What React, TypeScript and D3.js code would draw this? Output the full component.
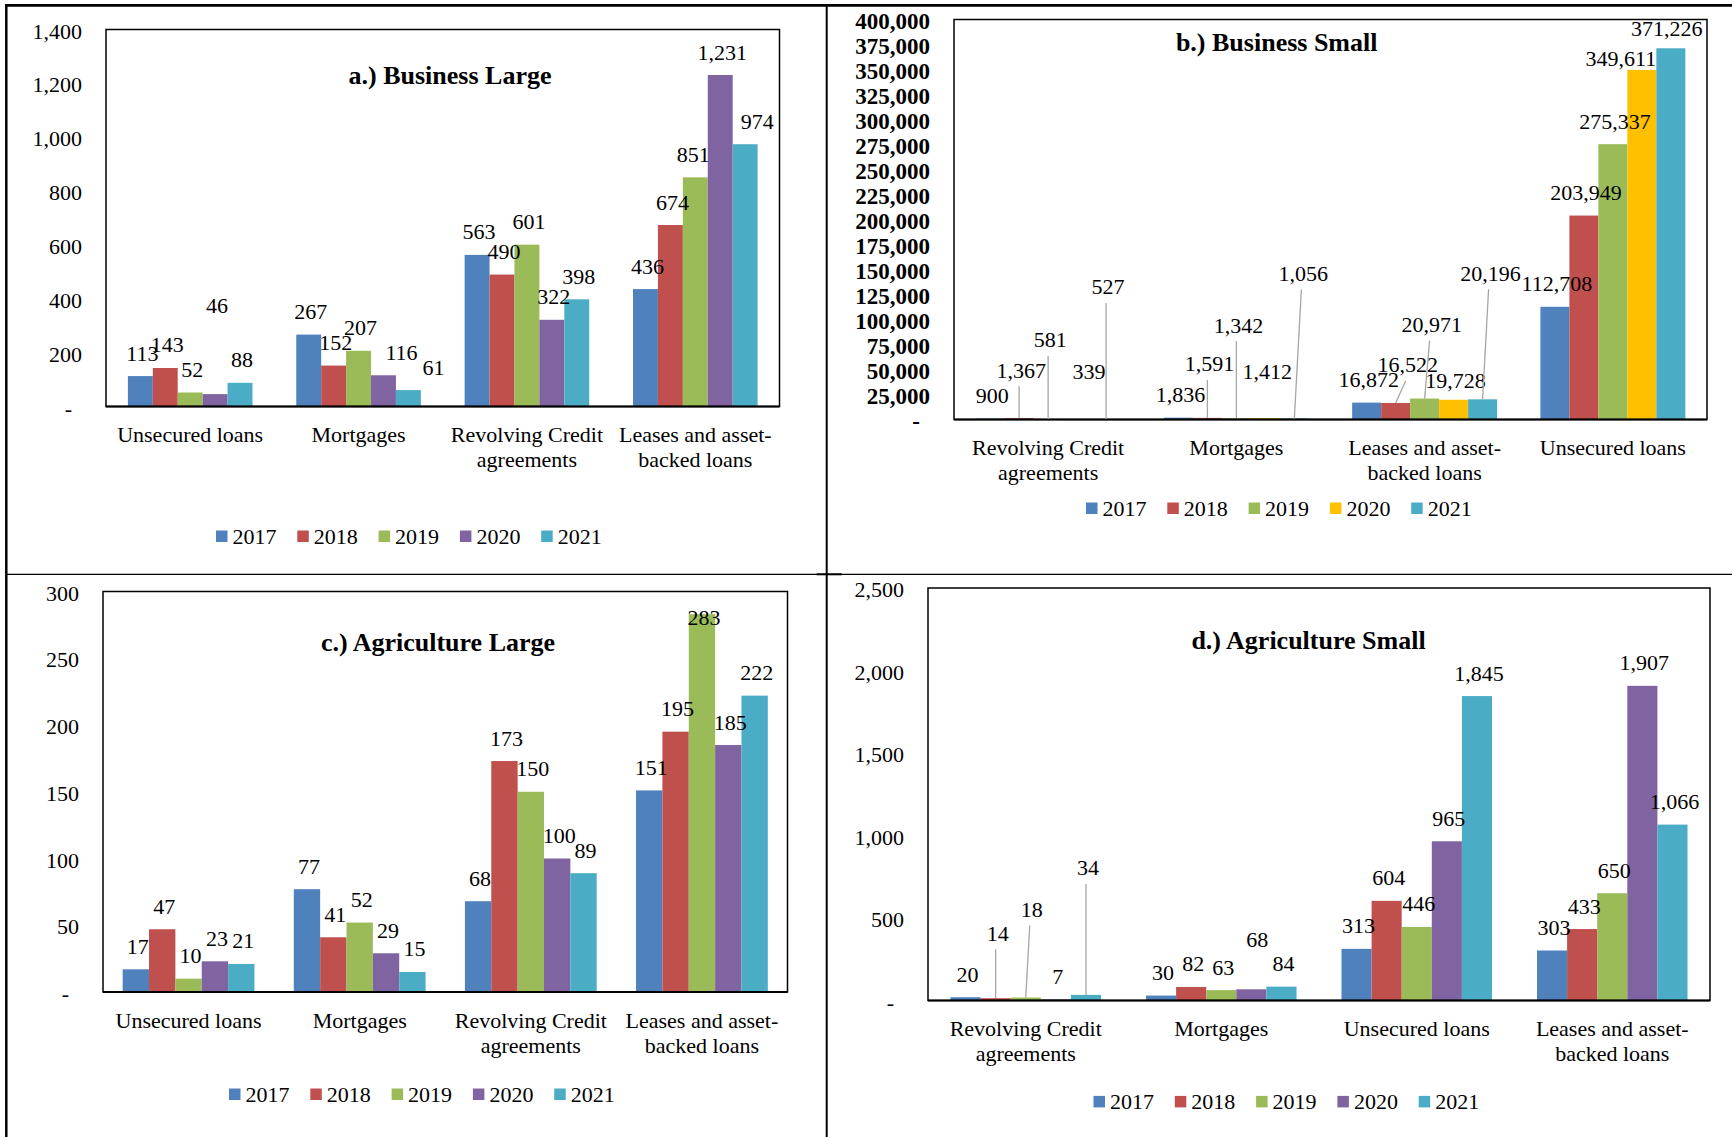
import React from 'react';
import * as d3 from 'd3';

// ---- data ----
const years = ['2017', '2018', '2019', '2020', '2021'];

const businessLargeCats = ['Unsecured loans', 'Mortgages', 'Revolving Credit agreements', 'Leases and asset-backed loans'];
const businessLargeValues = [
  [113, 143, 52, 46, 88],
  [267, 152, 207, 116, 61],
  [563, 490, 601, 322, 398],
  [436, 674, 851, 1231, 974],
];

const businessSmallCats = ['Revolving Credit agreements', 'Mortgages', 'Leases and asset-backed loans', 'Unsecured loans'];
const businessSmallValues = [
  [900, 1367, 581, 339, 527],
  [1836, 1591, 1342, 1412, 1056],
  [16872, 16522, 20971, 19728, 20196],
  [112708, 203949, 275337, 349611, 371226],
];

const agriLargeCats = ['Unsecured loans', 'Mortgages', 'Revolving Credit agreements', 'Leases and asset-backed loans'];
const agriLargeValues = [
  [17, 47, 10, 23, 21],
  [77, 41, 52, 29, 15],
  [68, 173, 150, 100, 89],
  [151, 195, 283, 185, 222],
];

const agriSmallCats = ['Revolving Credit agreements', 'Mortgages', 'Unsecured loans', 'Leases and asset-backed loans'];
const agriSmallValues = [
  [20, 14, 18, 7, 34],
  [30, 82, 63, 68, 84],
  [313, 604, 446, 965, 1845],
  [303, 433, 650, 1907, 1066],
];

// ---- styling ----
const palette = ['#4F81BD', '#C0504D', '#9BBB59', '#8064A2', '#4BACC6'];
const paletteB = ['#4F81BD', '#C0504D', '#9BBB59', '#FFC000', '#4BACC6'];
const FONT = '"Liberation Serif", "Times New Roman", serif';

// label nudges (moved by hand in the original chart)
type Nudge = { c: number; s: number; dx?: number; dy?: number; leader?: boolean };
const nudgesA: Nudge[] = [
  { c: 0, s: 3, dy: -66 },
  { c: 1, s: 3, dx: 16 },
  { c: 1, s: 4, dx: 23 },
  { c: 3, s: 2, dx: -4 },
  { c: 3, s: 4, dx: 10 },
];
const nudgesB: Nudge[] = [
  { c: 0, s: 1, dy: -25, leader: true },
  { c: 0, s: 2, dy: -56, leader: true },
  { c: 0, s: 3, dx: 10, dy: -25 },
  { c: 0, s: 4, dy: -109, leader: true },
  { c: 1, s: 1, dy: -31, leader: true },
  { c: 1, s: 2, dy: -70, leader: true },
  { c: 1, s: 3, dy: -24 },
  { c: 1, s: 4, dx: 7, dy: -122, leader: true },
  { c: 2, s: 1, dx: 10, dy: -15, leader: true },
  { c: 2, s: 2, dx: 5, dy: -51, leader: true },
  { c: 2, s: 3, dy: 4 },
  { c: 2, s: 4, dx: 6, dy: -103, leader: true },
  { c: 3, s: 3, dx: -23, dy: 12 },
  { c: 3, s: 4, dx: -6, dy: 3 },
];
const nudgesC: Nudge[] = [{ c: 3, s: 2, dy: 26 }];
const nudgesD: Nudge[] = [
  { c: 0, s: 1, dy: -42, leader: true },
  { c: 0, s: 2, dx: 4, dy: -65, leader: true },
  { c: 0, s: 4, dy: -104, leader: true },
  { c: 1, s: 3, dx: 4, dy: -27 },
];

function wrap(label: string, max = 17) {
  const tokens = label.match(/[^\s-]+-?/g) || [label];
  const lines: string[] = [];
  let cur = '';
  tokens.forEach((t) => {
    const join = cur === '' ? t : cur.endsWith('-') ? cur + t : cur + ' ' + t;
    if (join.length > max && cur !== '') {
      lines.push(cur);
      cur = t;
    } else cur = join;
  });
  if (cur) lines.push(cur);
  return lines;
}

type Box = { x0: number; x1: number; y0: number; y1: number };

function Panel(props: {
  title: string;
  cats: string[];
  values: number[][];
  yMax: number;
  yStep: number;
  boldTicks?: boolean;
  colors: string[];
  box: Box;
  pad: number;
  titlePos: [number, number];
  legendPos: [number, number];
  nudges: Nudge[];
}) {
  const { title, cats, values, yMax, yStep, boldTicks, colors, box, pad, titlePos, legendPos, nudges } = props;
  const x = d3.scaleBand().domain(cats).range([box.x0, box.x1]).paddingInner(pad).paddingOuter(pad / 2);
  const xs = d3.scaleBand().domain(years).range([0, x.bandwidth()]);
  const y = d3.scaleLinear().domain([0, yMax]).range([box.y1, box.y0]);
  const ticks = d3.range(0, yMax + yStep / 2, yStep);
  const fmt = d3.format(',');

  return (
    <g fontFamily={FONT}>
      {/* y tick labels */}
      {ticks.map((t) => (
        <text
          key={t}
          x={t === 0 ? box.x0 - 34 : box.x0 - 24}
          y={y(t) + 9}
          textAnchor="end"
          fontSize={boldTicks ? 23 : 22}
          fontWeight={boldTicks ? 'bold' : 'normal'}
        >
          {t === 0 ? '-' : fmt(t)}
        </text>
      ))}

      {/* bars */}
      {cats.map((c, ci) =>
        years.map((yr, si) => {
          const v = values[ci][si];
          return (
            <rect
              key={c + yr}
              x={(x(c) as number) + (xs(yr) as number)}
              y={y(v)}
              width={xs.bandwidth()}
              height={box.y1 - y(v)}
              fill={colors[si]}
            />
          );
        })
      )}

      {/* plot frame */}
      <rect x={box.x0} y={box.y0} width={box.x1 - box.x0} height={box.y1 - box.y0} fill="none" stroke="#000" strokeWidth={1.5} />
      <line x1={box.x0} x2={box.x1} y1={box.y1} y2={box.y1} stroke="#000" strokeWidth={2.2} />

      {/* data labels */}
      {cats.map((c, ci) =>
        years.map((yr, si) => {
          const v = values[ci][si];
          const n = nudges.find((d) => d.c === ci && d.s === si);
          const cx = (x(c) as number) + (xs(yr) as number) + xs.bandwidth() / 2;
          const lx = cx + 2 + (n?.dx ?? 0);
          const ly = y(v) - 23 + (n?.dy ?? 0);
          return (
            <g key={'l' + c + yr}>
              {n?.leader && (
                <line x1={lx - 2} y1={ly + 16} x2={cx} y2={y(v)} stroke="#A6A6A6" strokeWidth={1.3} />
              )}
              <text x={lx} y={ly + 7.5} textAnchor="middle" fontSize={22}>
                {fmt(v)}
              </text>
            </g>
          );
        })
      )}

      {/* category labels */}
      {cats.map((c) => {
        const cx = (x(c) as number) + x.bandwidth() / 2;
        return wrap(c).map((line, li) => (
          <text key={c + li} x={cx} y={box.y1 + 28 + li * 25 + 7.5} textAnchor="middle" fontSize={22}>
            {line}
          </text>
        ));
      })}

      {/* title */}
      <text x={titlePos[0]} y={titlePos[1] + 9} textAnchor="middle" fontSize={26} fontWeight="bold">
        {title}
      </text>

      {/* legend */}
      {years.map((yr, si) => {
        const lx = legendPos[0] + si * 81.3;
        return (
          <g key={'lg' + yr}>
            <rect x={lx} y={legendPos[1] - 5.5} width={11.5} height={11.5} fill={colors[si]} />
            <text x={lx + 16.5} y={legendPos[1] + 7.5} fontSize={22}>
              {yr}
            </text>
          </g>
        );
      })}
    </g>
  );
}

export default function App() {
  return (
    <svg
      width={1732}
      height={1137}
      style={{ position: 'absolute', left: 0, top: 0, background: '#fff' }}
    >
      <rect width={1732} height={1137} fill="#fff" />
      {/* frame lines around the four panels */}
      <line x1={5} x2={1732} y1={5.3} y2={5.3} stroke="#000" strokeWidth={2.7} />
      <line x1={6.3} x2={6.3} y1={4} y2={1137} stroke="#000" strokeWidth={2.5} />
      <line x1={826.7} x2={826.7} y1={4} y2={1137} stroke="#000" strokeWidth={2} />
      <line x1={6} x2={1732} y1={574.3} y2={574.3} stroke="#000" strokeWidth={1.3} />
      <line x1={816.7} x2={841.7} y1={574.3} y2={574.3} stroke="#000" strokeWidth={2} />

      <Panel
        title="a.) Business Large"
        cats={businessLargeCats}
        values={businessLargeValues}
        yMax={1400}
        yStep={200}
        colors={palette}
        box={{ x0: 106, x1: 779.5, y0: 29.5, y1: 406.5 }}
        pad={0.26}
        titlePos={[450, 74.5]}
        legendPos={[216, 536]}
        nudges={nudgesA}
      />
      <Panel
        title="b.) Business Small"
        cats={businessSmallCats}
        values={businessSmallValues}
        yMax={400000}
        yStep={25000}
        boldTicks
        colors={paletteB}
        box={{ x0: 954, x1: 1707, y0: 19.5, y1: 419.5 }}
        pad={0.23}
        titlePos={[1276.7, 42]}
        legendPos={[1086, 508]}
        nudges={nudgesB}
      />
      <Panel
        title="c.) Agriculture Large"
        cats={agriLargeCats}
        values={agriLargeValues}
        yMax={300}
        yStep={50}
        colors={palette}
        box={{ x0: 103, x1: 787.5, y0: 591.5, y1: 992 }}
        pad={0.23}
        titlePos={[438, 642.4]}
        legendPos={[229, 1094]}
        nudges={nudgesC}
      />
      <Panel
        title="d.) Agriculture Small"
        cats={agriSmallCats}
        values={agriSmallValues}
        yMax={2500}
        yStep={500}
        colors={palette}
        box={{ x0: 928, x1: 1710, y0: 588, y1: 1000.5 }}
        pad={0.23}
        titlePos={[1308.5, 639.5]}
        legendPos={[1093.5, 1101.4]}
        nudges={nudgesD}
      />
    </svg>
  );
}
